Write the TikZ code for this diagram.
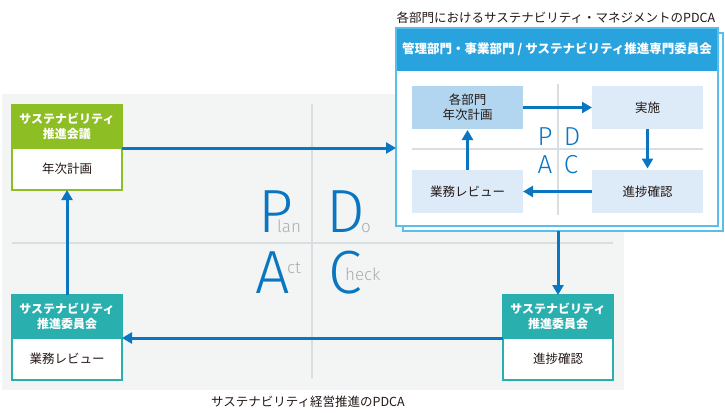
\documentclass[tikz,border=0pt]{standalone}
\usepackage{fontspec}
\setmainfont{Noto Sans CJK JP}
\newfontfamily\thinfont{Fira Sans}[UprightFont=* Light]
\usetikzlibrary{arrows.meta}
\definecolor{bggray}{HTML}{F3F5F5}
\definecolor{linegray}{HTML}{D8DEE2}
\definecolor{hgreen}{HTML}{8DBE23}
\definecolor{hteal}{HTML}{2AAFAF}
\definecolor{arrblue}{HTML}{0A76C2}
\definecolor{hblue}{HTML}{29A3DD}
\definecolor{frameblue}{HTML}{5ABEEA}
\definecolor{boxdark}{HTML}{B2D6EF}
\definecolor{boxlight}{HTML}{DDEBF8}
\definecolor{txt}{HTML}{231815}
\definecolor{subgray}{HTML}{ABABAB}
\begin{document}
\begin{tikzpicture}[x=1pt,y=-1pt,
  hdr/.style={anchor=north west, minimum width=110pt, minimum height=43pt, inner sep=0pt, outer sep=0pt, align=center, text=white, font=\fontsize{12}{15}\selectfont\bfseries, line width=1.2pt},
  bodybox/.style={anchor=north, minimum width=110pt, minimum height=42pt, inner sep=0pt, outer sep=0pt, fill=white, text=txt, font=\fontsize{12.5}{15}\selectfont, line width=1.2pt},
  inbox/.style={anchor=north west, minimum width=111pt, minimum height=43pt, inner sep=0pt, outer sep=0pt, fill=boxlight, text=txt, align=center, font=\fontsize{12.5}{15}\selectfont},
  frame/.style={anchor=north west, draw=frameblue, fill=white, line width=1.2pt, inner sep=0pt, outer sep=0pt},
  arr/.style={draw=arrblue, line width=3pt, -{Triangle[length=10pt,width=11pt]}},
  gline/.style={draw=linegray, line width=1.5pt},
  bigl/.style={text=arrblue, font=\thinfont\fontsize{61}{61}\selectfont, inner sep=0pt, anchor=base},
  smalll/.style={text=subgray, font=\thinfont\fontsize{17}{17}\selectfont, inner sep=0pt, anchor=base west},
  inl/.style={text=arrblue, font=\thinfont\fontsize{26}{26}\selectfont, inner sep=0pt, anchor=base},
  caption/.style={text=txt, font=\fontsize{12.5}{15}\selectfont, inner sep=0pt}
]
\useasboundingbox (0,0) rectangle (725,412);
% gray background
\fill[bggray] (2,94) rectangle (624,390);
\draw[gline] (12,243) -- (613,243);
\draw[gline] (312,104) -- (312,378);
% big letters
\node[bigl] (bP) at (276,232) {P};
\node[smalll] (sP) at (277,232) {lan};
\node[bigl] (bD) at (346,232) {D};
\node[smalll] (sD) at (361,232) {o};
\node[bigl] (bA) at (273,293) {A};
\node[smalll] (sA) at (287,273) {ct};
\node[bigl] (bC) at (345,293) {C};
\node[smalll] (sC) at (345,280) {heck};
% left top box
\node[hdr, fill=hgreen, draw=hgreen] (plan) at (12,105) {サステナビリティ\\推進会議};
\node[bodybox, draw=hgreen] (planb) at (plan.south) {年次計画};
% left bottom box
\node[hdr, fill=hteal, draw=hteal] (act) at (12,295) {サステナビリティ\\推進委員会};
\node[bodybox, draw=hteal] (actb) at (act.south) {業務レビュー};
% right bottom box
\node[hdr, fill=hteal, draw=hteal] (chk) at (503,295) {サステナビリティ\\推進委員会};
\node[bodybox, draw=hteal] (chkb) at (chk.south) {進捗確認};
% management box
\node[caption] (title) at (556,18) {各部門におけるサステナビリティ・マネジメントのPDCA};
\node[frame, minimum width=320pt, minimum height=198pt] (shadow) at (403,33) {};
\node[frame, minimum width=322pt, minimum height=198pt] (mgmt) at (396,28) {};
\node[anchor=north west, fill=hblue, minimum width=322pt, minimum height=43pt, inner sep=0pt, outer sep=0pt, text=white, font=\fontsize{12.5}{15}\selectfont\bfseries] (mhdr) at (396,28) {管理部門・事業部門 / サステナビリティ推進専門委員会};
\draw[draw=frameblue, line width=1.2pt] (mgmt.north west) rectangle (mgmt.south east);
\draw[gline, line width=1.2pt] (412,149) -- (703,149);
\draw[gline, line width=1.2pt] (558,84) -- (558,215);
\node[inbox, fill=boxdark] (p1) at (412,86) {各部門\\年次計画};
\node[inbox] (d1) at (592,86) {実施};
\node[inbox] (a1) at (412,170) {業務レビュー};
\node[inbox] (c1) at (592,170) {進捗確認};
\node[inl] (iP) at (545,145) {P};
\node[inl] (iD) at (572,145) {D};
\node[inl] (iA) at (545,173) {A};
\node[inl] (iC) at (571,173) {C};
\draw[arr] (p1.east) -- (d1.west);
\draw[arr, shorten >=1.5pt] (d1.south) -- (c1.north);
\draw[arr] (c1.west) -- (a1.east);
\draw[arr, shorten >=1pt] (a1.north) -- (p1.south);
% outer arrows
\draw[arr] (planb.north east) -- (planb.north east -| mgmt.west);
\draw[arr] (chk.north |- shadow.south) -- (chk.north);
\draw[arr] (chkb.north west) -- (actb.north east);
\draw[arr] (act.north) -- (planb.south);
% caption
\node[caption] (cap) at (308,402) {サステナビリティ経営推進のPDCA};
\end{tikzpicture}
\end{document}
